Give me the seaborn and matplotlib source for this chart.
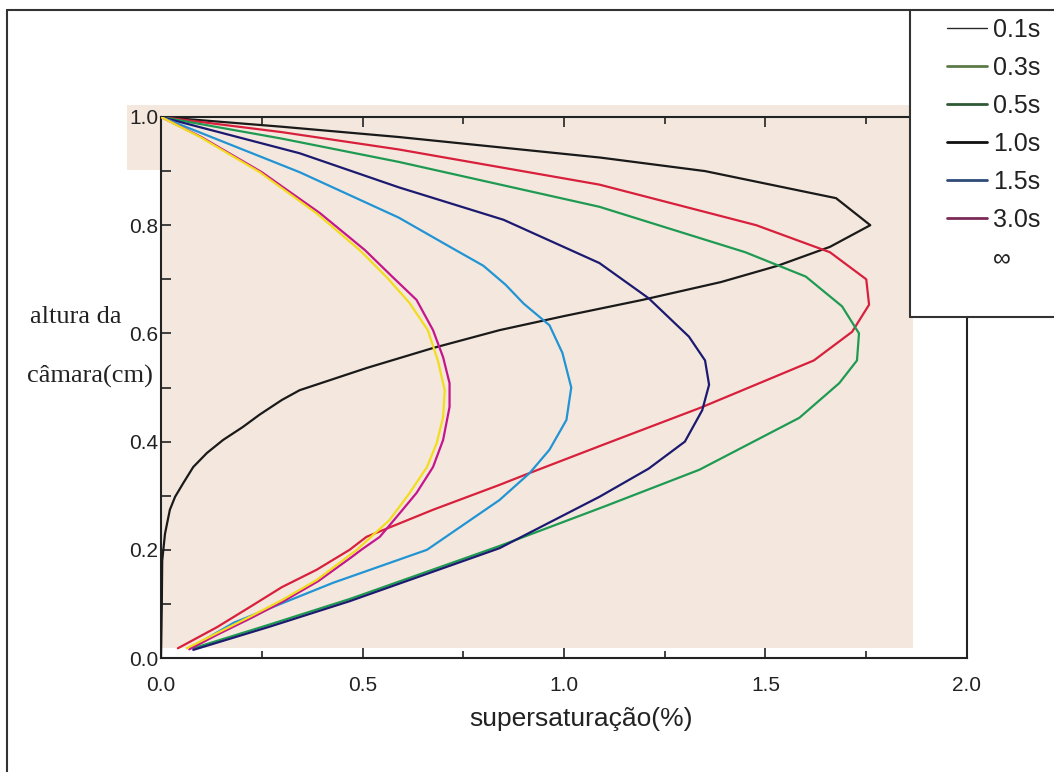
import numpy as np
import pandas as pd
import matplotlib
matplotlib.use("Agg")
import matplotlib.pyplot as plt
from matplotlib.lines import Line2D
from matplotlib.patches import Rectangle
import seaborn as sns

# ---------------- data ----------------
series_labels = ["0.1s", "0.3s", "0.5s", "1.0s", "1.5s", "3.0s", "\u221e"]

x_01 = [0.0, 0.002, 0.003, 0.01, 0.022, 0.035, 0.055, 0.08, 0.114, 0.154, 0.203, 0.245, 0.30,
        0.344, 0.51, 0.675, 0.84, 1.0, 1.195, 1.39, 1.53, 1.66, 1.76, 1.675, 1.35, 1.09, 0.59, 0.3, 0.0]
y_01 = [0.0, 0.1, 0.18, 0.23, 0.274, 0.298, 0.323, 0.353, 0.379, 0.403, 0.427, 0.45, 0.477,
        0.495, 0.536, 0.573, 0.606, 0.632, 0.662, 0.695, 0.725, 0.76, 0.80, 0.85, 0.90, 0.925, 0.963, 0.982, 1.0]

x_03 = [0.042, 0.139, 0.22, 0.30, 0.386, 0.468, 0.51, 0.675, 0.84, 0.915, 1.1, 1.34, 1.62, 1.715,
        1.757, 1.75, 1.66, 1.477, 1.088, 0.59, 0.3, 0.0]
y_03 = [0.018, 0.057, 0.094, 0.131, 0.163, 0.20, 0.224, 0.274, 0.32, 0.342, 0.395, 0.463, 0.55, 0.603,
        0.653, 0.70, 0.75, 0.80, 0.875, 0.94, 0.972, 1.0]

x_05 = [0.08, 0.27, 0.468, 0.51, 0.84, 1.1, 1.336, 1.584, 1.683, 1.727, 1.732, 1.69, 1.6, 1.45,
        1.088, 0.59, 0.3, 0.0]
y_05 = [0.018, 0.062, 0.109, 0.12, 0.207, 0.28, 0.348, 0.444, 0.508, 0.55, 0.60, 0.65, 0.705, 0.75,
        0.834, 0.917, 0.96, 1.0]

x_10 = [0.08, 0.27, 0.468, 0.84, 1.088, 1.21, 1.30, 1.343, 1.36, 1.35, 1.31, 1.21, 1.088, 0.85,
        0.59, 0.344, 0.0]
y_10 = [0.015, 0.058, 0.105, 0.203, 0.298, 0.35, 0.40, 0.458, 0.505, 0.55, 0.594, 0.665, 0.73, 0.81,
        0.87, 0.933, 1.0]

x_15 = [0.072, 0.18, 0.427, 0.66, 0.84, 0.915, 0.964, 1.006, 1.018, 0.996, 0.964, 0.90, 0.855,
        0.80, 0.724, 0.59, 0.344, 0.0]
y_15 = [0.018, 0.065, 0.139, 0.20, 0.292, 0.342, 0.385, 0.44, 0.50, 0.564, 0.615, 0.655, 0.69,
        0.725, 0.757, 0.814, 0.898, 1.0]

x_30 = [0.07, 0.142, 0.224, 0.304, 0.39, 0.472, 0.497, 0.543, 0.585, 0.634, 0.675, 0.70, 0.716,
        0.716, 0.70, 0.675, 0.634, 0.575, 0.506, 0.395, 0.25, 0.10, 0.0]
y_30 = [0.016, 0.044, 0.074, 0.105, 0.142, 0.186, 0.20, 0.224, 0.261, 0.305, 0.353, 0.403, 0.464,
        0.508, 0.556, 0.606, 0.662, 0.704, 0.754, 0.822, 0.898, 0.963, 1.0]

x_inf = [0.064, 0.139, 0.22, 0.30, 0.386, 0.468, 0.486, 0.567, 0.617, 0.66, 0.684, 0.70, 0.704,
         0.687, 0.662, 0.617, 0.56, 0.493, 0.386, 0.245, 0.097, 0.0]
y_inf = [0.018, 0.046, 0.076, 0.107, 0.144, 0.19, 0.20, 0.255, 0.305, 0.353, 0.397, 0.445, 0.495,
         0.55, 0.606, 0.656, 0.704, 0.754, 0.822, 0.898, 0.963, 1.0]

x_ticks = [0.0, 0.5, 1.0, 1.5, 2.0]
y_ticks = [0.0, 0.2, 0.4, 0.6, 0.8, 1.0]

line_colors = ["#1a1a1a", "#d8203c", "#1f9a52", "#1c1a70", "#2294d4", "#c4168c", "#f2dc1e"]
legend_colors = ["#2a2a2a", "#5c7a48", "#2f5a36", "#111111", "#2f4b78", "#7c2a58", "none"]

# ---------------- build table ----------------
xs = [x_01, x_03, x_05, x_10, x_15, x_30, x_inf]
ys = [y_01, y_03, y_05, y_10, y_15, y_30, y_inf]
frames = []
for lab, xv, yv in zip(series_labels, xs, ys):
    frames.append(pd.DataFrame({"x": xv, "y": yv, "serie": lab, "ordem": np.arange(len(xv))}))
df = pd.concat(frames, ignore_index=True)

sns.set_theme(style="white")
plt.rcParams["font.family"] = ["Liberation Sans", "DejaVu Sans"]

W, H = 1054, 772
fig = plt.figure(figsize=(W / 100, H / 100), dpi=100)
fig.patch.set_facecolor("white")
ax = fig.add_axes([161 / W, 1 - 658 / H, (967 - 161) / W, (658 - 117) / H])
ax.set_facecolor("none")
ax.set_zorder(1)

# scanned beige paper areas
bg = "#f4e8de"
ax.add_patch(Rectangle((0, 0.018), 1.866, 1.022 - 0.018, facecolor=bg, edgecolor="none",
                       zorder=0, clip_on=False))
ax.add_patch(Rectangle((-0.084, 0.902), 0.084, 1.022 - 0.902, facecolor=bg, edgecolor="none",
                       zorder=0, clip_on=False))

sns.lineplot(data=df, x="x", y="y", hue="serie", hue_order=series_labels,
             palette=dict(zip(series_labels, line_colors)), sort=False, estimator=None,
             units="serie", linewidth=1.6, legend=False, ax=ax, zorder=3)

ax.set_xlim(0, 2.0)
ax.set_ylim(0, 1.0)
ax.set_xticks(x_ticks)
ax.set_xticklabels([f"{v:.1f}" for v in x_ticks])
ax.set_xticks(np.arange(0, 2.01, 0.25), minor=True)
ax.set_yticks(y_ticks)
ax.set_yticklabels([f"{v:.1f}" for v in y_ticks])
ax.set_yticks(np.arange(0, 1.01, 0.1), minor=True)
ax.set_xlabel("")
ax.set_ylabel("")
for s in ax.spines.values():
    s.set_visible(True)
    s.set_color("#222222")
    s.set_linewidth(1.5)
ax.tick_params(axis="x", which="both", direction="in", top=True, bottom=True,
               color="#222222", width=1.2, labelsize=15, pad=13, labelcolor="#222222")
ax.tick_params(axis="x", which="major", length=7)
ax.tick_params(axis="x", which="minor", length=5)
ax.tick_params(axis="y", which="both", direction="in", left=True, right=False,
               color="#222222", width=1.2, labelsize=15, pad=2, length=7, labelcolor="#222222")
ax.grid(False)

# axis titles
fig.text(581 / W, 1 - 726 / H, "supersaturação(%)", ha="center", va="baseline",
         fontsize=19, color="#222222")
fig.text(30 / W, 1 - 323 / H, "altura da", ha="left", va="baseline", fontsize=19,
         color="#222222", family=["Liberation Serif", "DejaVu Serif"])
fig.text(27 / W, 1 - 383 / H, "câmara(cm)", ha="left", va="baseline", fontsize=19,
         color="#222222", family=["Liberation Serif", "DejaVu Serif"])

# white legend box covering the top-right corner of the axes
fig.add_artist(Rectangle((910 / W, 1 - 317 / H), (W - 910) / W, (317 - 10) / H,
                         transform=fig.transFigure, facecolor="white", edgecolor="none",
                         zorder=4))

# legend
handles = []
for c, lab in zip(legend_colors, series_labels):
    lw = 1.0 if lab == "0.1s" else 2.0
    handles.append(Line2D([0], [0], color=c, lw=lw))
leg = fig.legend(handles, series_labels, loc="upper left",
                 bbox_to_anchor=(947 / W, 1 - 18 / H), bbox_transform=fig.transFigure,
                 frameon=False, fontsize=18, handlelength=1.6, handletextpad=0.25,
                 labelspacing=0.56, borderpad=0, borderaxespad=0)
leg.set_zorder(6)
for t in leg.get_texts():
    t.set_color("#222222")

# outer frame lines of the scanned page
frame_kw = dict(color="#333333", lw=1.5, transform=fig.transFigure, clip_on=False, zorder=7)
fig.add_artist(Line2D([7 / W, 7 / W], [1 - 10 / H, 0], **frame_kw))
fig.add_artist(Line2D([7 / W, 1], [1 - 10 / H, 1 - 10 / H], **frame_kw))
fig.add_artist(Line2D([910 / W, 910 / W], [1 - 10 / H, 1 - 317 / H], **frame_kw))
fig.add_artist(Line2D([910 / W, 1], [1 - 317 / H, 1 - 317 / H], **frame_kw))

fig.savefig("out.png", dpi=100, facecolor="white")
